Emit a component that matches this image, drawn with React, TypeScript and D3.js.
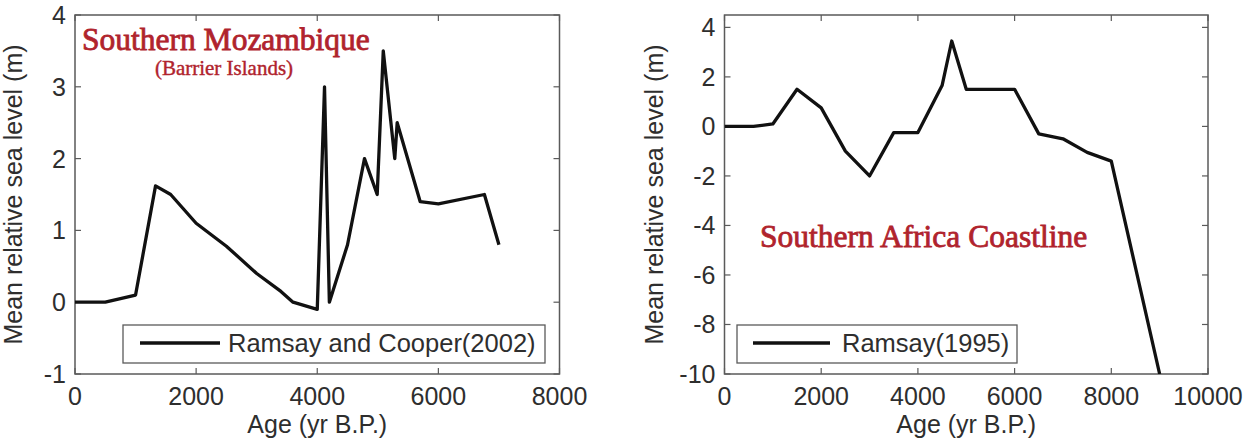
import React from "react";
import * as d3 from "d3";

// Left panel: Ramsay and Cooper (2002), Southern Mozambique
const leftAge = [0, 500, 1000, 1330, 1580, 2000, 2500, 3000, 3400, 3600, 4000, 4120, 4200, 4500, 4780, 4990, 5090, 5280, 5320, 5700, 6000, 6760, 7000];
const leftLevel = [0, 0, 0.1, 1.62, 1.5, 1.1, 0.78, 0.4, 0.15, 0, -0.1, 3.0, 0, 0.8, 2.0, 1.5, 3.5, 2.0, 2.5, 1.4, 1.37, 1.5, 0.8];
const leftXTicks = [0, 2000, 4000, 6000, 8000];
const leftYTicks = [-1, 0, 1, 2, 3, 4];

// Right panel: Ramsay (1995), Southern Africa Coastline
const rightAge = [0, 600, 1000, 1500, 2000, 2500, 3000, 3500, 4000, 4500, 4700, 5000, 6000, 6500, 7000, 7500, 8000, 9000];
const rightLevel = [0, 0, 0.1, 1.5, 0.75, -1.0, -2.0, -0.25, -0.25, 1.65, 3.45, 1.5, 1.5, -0.3, -0.5, -1.05, -1.4, -10];
const rightXTicks = [0, 2000, 4000, 6000, 8000, 10000];
const rightYTicks = [-10, -8, -6, -4, -2, 0, 2, 4];

const xLabel = "Age (yr B.P.)";
const yLabel = "Mean relative sea level (m)";

const SANS = "'Liberation Sans', Arial, Helvetica, sans-serif";
const SERIF = "'Liberation Serif', 'Times New Roman', serif";
const RED = "#b0232d";
const AXIS = "#5a5a5a";
const TEXT = "#2e2e2e";

type PanelProps = {
  id: string;
  x0: number;
  x1: number;
  xDomain: [number, number];
  yDomain: [number, number];
  xTicks: number[];
  yTicks: number[];
  ages: number[];
  levels: number[];
  yLabelX: number;
  legend: { x0: number; x1: number; text: string; lineX0: number; lineX1: number; textX: number };
  children?: React.ReactNode;
};

function Panel(p: PanelProps) {
  const top = 15;
  const bottom = 374;
  const x = d3.scaleLinear().domain(p.xDomain).range([p.x0, p.x1]);
  const y = d3.scaleLinear().domain(p.yDomain).range([bottom, top]);
  const data = p.ages.map((a, i) => [a, p.levels[i]] as [number, number]);
  const line = d3
    .line<[number, number]>()
    .x((d) => x(d[0]))
    .y((d) => y(d[1]));
  const tickLen = 6;
  const cy = (top + bottom) / 2;
  return (
    <g>
      <defs>
        <clipPath id={p.id}>
          <rect x={p.x0} y={top} width={p.x1 - p.x0} height={bottom - top} />
        </clipPath>
      </defs>
      <rect x={p.x0} y={top} width={p.x1 - p.x0} height={bottom - top} fill="#fff" stroke={AXIS} strokeWidth={1.5} />
      {p.xTicks.map((t) => (
        <g key={"xt" + t}>
          <line x1={x(t)} x2={x(t)} y1={bottom} y2={bottom - tickLen} stroke={AXIS} strokeWidth={1.2} />
          <line x1={x(t)} x2={x(t)} y1={top} y2={top + tickLen} stroke={AXIS} strokeWidth={1.2} />
          <text x={x(t)} y={405} textAnchor="middle" fontFamily={SANS} fontSize={25} fill={TEXT}>
            {t}
          </text>
        </g>
      ))}
      {p.yTicks.map((t) => (
        <g key={"yt" + t}>
          <line x1={p.x0} x2={p.x0 + tickLen} y1={y(t)} y2={y(t)} stroke={AXIS} strokeWidth={1.2} />
          <line x1={p.x1} x2={p.x1 - tickLen} y1={y(t)} y2={y(t)} stroke={AXIS} strokeWidth={1.2} />
          <text x={p.x0 - 9} y={y(t) + 9} textAnchor="end" fontFamily={SANS} fontSize={25} fill={TEXT}>
            {t}
          </text>
        </g>
      ))}
      <path d={line(data) || ""} fill="none" stroke="#111" strokeWidth={3.3} strokeLinejoin="round" clipPath={`url(#${p.id})`} />
      {p.children}
      <rect
        x={p.legend.x0}
        y={325}
        width={p.legend.x1 - p.legend.x0}
        height={38}
        fill="#fff"
        stroke={AXIS}
        strokeWidth={1.3}
      />
      <line x1={p.legend.lineX0} x2={p.legend.lineX1} y1={343} y2={343} stroke="#111" strokeWidth={3.3} />
      <text x={p.legend.textX} y={352} fontFamily={SANS} fontSize={25.5} fill={TEXT}>
        {p.legend.text}
      </text>
      <text x={(p.x0 + p.x1) / 2} y={433} textAnchor="middle" fontFamily={SANS} fontSize={25} fill={TEXT}>
        {xLabel}
      </text>
      <text
        transform={`translate(${p.yLabelX},${cy}) rotate(-90)`}
        textAnchor="middle"
        fontFamily={SANS}
        fontSize={25}
        fill={TEXT}
      >
        {yLabel}
      </text>
    </g>
  );
}

export default function App() {
  return (
    <div style={{ position: "absolute", left: 0, top: 0 }}>
      <svg width={1255} height={444} viewBox="0 0 1255 444" style={{ display: "block", background: "#fff" }}>
        <rect width={1255} height={444} fill="#fff" />
        <Panel
          id="clipL"
          x0={75}
          x1={559.5}
          xDomain={[0, 8000]}
          yDomain={[-1, 4]}
          xTicks={leftXTicks}
          yTicks={leftYTicks}
          ages={leftAge}
          levels={leftLevel}
          yLabelX={22}
          legend={{ x0: 123, x1: 545, text: "Ramsay and Cooper(2002)", lineX0: 140, lineX1: 220, textX: 228 }}
        >
          <text x={82} y={50} fontFamily={SERIF} fontSize={31.5} fill={RED} stroke={RED} strokeWidth={0.8}>
            Southern Mozambique
          </text>
          <text x={224} y={75} textAnchor="middle" fontFamily={SERIF} fontSize={21} fill={RED} stroke={RED} strokeWidth={0.4}>
            (Barrier Islands)
          </text>
        </Panel>
        <Panel
          id="clipR"
          x0={724.5}
          x1={1208}
          xDomain={[0, 10000]}
          yDomain={[-10, 4.5]}
          xTicks={rightXTicks}
          yTicks={rightYTicks}
          ages={rightAge}
          levels={rightLevel}
          yLabelX={663}
          legend={{ x0: 737, x1: 1017, text: "Ramsay(1995)", lineX0: 753, lineX1: 830, textX: 842 }}
        >
          <text x={760} y={247} fontFamily={SERIF} fontSize={31.5} fill={RED} stroke={RED} strokeWidth={0.8}>
            Southern Africa Coastline
          </text>
        </Panel>
      </svg>
    </div>
  );
}
